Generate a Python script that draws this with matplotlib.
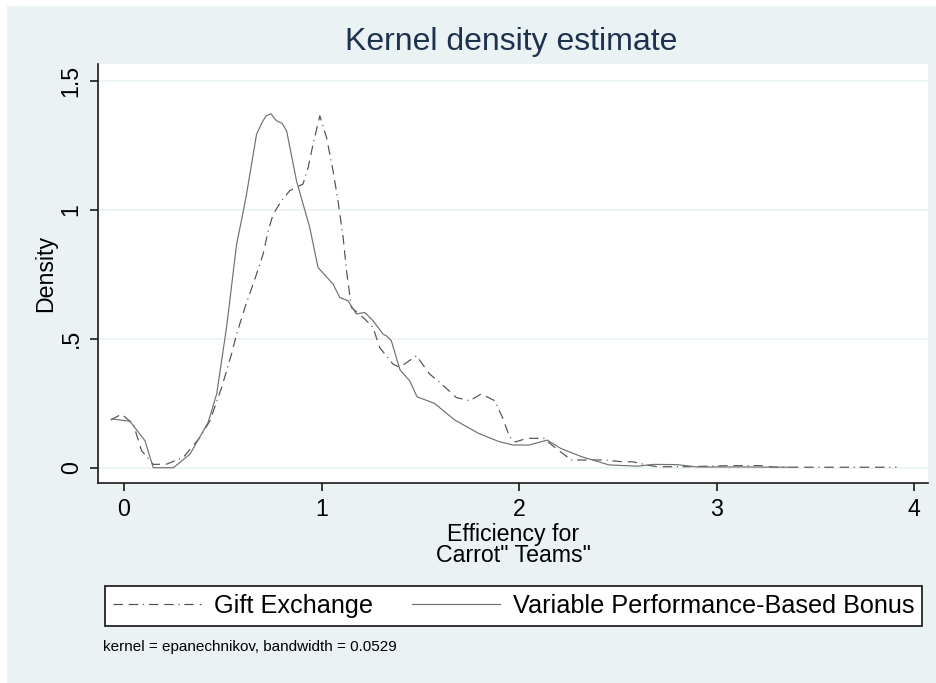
# libraries
import matplotlib
matplotlib.use('Agg')
import matplotlib.pyplot as plt
from matplotlib.patches import Rectangle

plt.rcParams['font.family'] = ['Liberation Sans', 'DejaVu Sans']

# density curves
gift_x = [-0.067, -0.012, 0.047, 0.089, 0.148, 0.216, 0.30, 0.384, 0.435, 0.494,
          0.544, 0.57, 0.612, 0.671, 0.704, 0.73, 0.755, 0.797, 0.839, 0.906,
          0.932, 0.957, 0.991, 1.025, 1.058, 1.083, 1.109, 1.126, 1.151, 1.21,
          1.26, 1.294, 1.361, 1.395, 1.48, 1.547, 1.598, 1.682, 1.75, 1.808,
          1.876, 1.917, 1.951, 1.98, 2.04, 2.125, 2.177, 2.263, 2.37, 2.44,
          2.52, 2.575, 2.65, 2.70, 2.86, 2.95, 3.06, 3.22, 3.3, 3.6, 3.91]
gift_y = [0.185, 0.208, 0.169, 0.066, 0.013, 0.014, 0.04, 0.117, 0.182, 0.311,
          0.44, 0.518, 0.621, 0.751, 0.828, 0.919, 0.983, 1.035, 1.074, 1.10,
          1.164, 1.255, 1.364, 1.28, 1.151, 1.035, 0.893, 0.764, 0.621, 0.583,
          0.544, 0.466, 0.402, 0.389, 0.434, 0.363, 0.331, 0.272, 0.26, 0.286,
          0.26, 0.192, 0.12, 0.10, 0.114, 0.114, 0.081, 0.030, 0.03, 0.03,
          0.023, 0.023, 0.01, 0.004, 0.004, 0.006, 0.008, 0.008, 0.002, 0.002, 0.002]

bonus_x = [-0.062, 0.03, 0.106, 0.148, 0.25, 0.334, 0.426, 0.469, 0.519, 0.57,
           0.60, 0.62, 0.671, 0.70, 0.72, 0.745, 0.76, 0.772, 0.80, 0.823,
           0.873, 0.94, 0.982, 1.058, 1.092, 1.134, 1.176, 1.218, 1.26, 1.311,
           1.33, 1.353, 1.397, 1.446, 1.483, 1.57, 1.674, 1.795, 1.899, 1.97,
           2.05, 2.142, 2.21, 2.315, 2.454, 2.6, 2.68, 2.8, 2.9, 3.1, 3.37]
bonus_y = [0.189, 0.18, 0.105, 0.0, 0.0, 0.053, 0.176, 0.286, 0.544, 0.867,
           0.98, 1.06, 1.293, 1.34, 1.365, 1.372, 1.355, 1.345, 1.335, 1.306,
           1.112, 0.931, 0.776, 0.712, 0.66, 0.647, 0.596, 0.602, 0.57, 0.518,
           0.51, 0.492, 0.379, 0.337, 0.275, 0.25, 0.185, 0.133, 0.101, 0.088,
           0.088, 0.107, 0.075, 0.043, 0.011, 0.006, 0.013, 0.012, 0.003, 0.003, 0.002]

xticks = [0, 1, 2, 3, 4]
yticks = [0, 0.5, 1, 1.5]
ytick_labels = ['0', '.5', '1', '1.5']

bg = '#eaf2f3'
W, H = 937, 683

fig = plt.figure(figsize=(W / 100, H / 100), dpi=100)
fig.patch.set_facecolor('white')
fig.add_artist(Rectangle((7 / W, 0), 1, 1 - 6 / H, transform=fig.transFigure,
                         facecolor=bg, edgecolor='none', zorder=-5))

ax = fig.add_axes([98 / W, 1 - 482.7 / H, 830 / W, 418.7 / H])
ax.set_facecolor('white')

ax.plot(gift_x, gift_y, color='#505050', lw=0.85, dashes=(8, 5, 8, 4, 1, 4),
        label='Gift Exchange')
ax.plot(bonus_x, bonus_y, color='#707070', lw=0.85,
        label='Variable Performance-Based Bonus')

ax.set_xlim(-0.1316, 4.069)
ax.set_ylim(-0.058, 1.565)
ax.set_xticks(xticks)
ax.set_yticks(yticks)
ax.set_yticklabels(ytick_labels, rotation=90, va='center')
ax.grid(axis='y', color=bg, lw=1.2)
ax.set_axisbelow(True)
for s in ['top', 'right']:
    ax.spines[s].set_visible(False)
for s in ['left', 'bottom']:
    ax.spines[s].set_linewidth(1.2)
    ax.spines[s].set_color('#1a1a1a')
ax.tick_params(axis='both', direction='out', length=6, width=1.2, color='#1a1a1a',
               labelsize=16.7, pad=5)

ax.set_ylabel('Density', fontsize=16.7, labelpad=2)

fig.text(513 / W, 1 - 541 / H, 'Efficiency for', ha='center', va='baseline', fontsize=16.7)
fig.text(513 / W, 1 - 562 / H, 'Carrot" Teams"', ha='center', va='baseline', fontsize=16.7)

fig.text(511 / W, 1 - 50 / H, 'Kernel density estimate', ha='center', va='baseline',
         fontsize=23, color='#1e3250')

handles = ax.get_lines()
leg = fig.legend(handles, [h.get_label() for h in handles], ncol=2, loc='center',
                 bbox_to_anchor=(105 / W, 1 - 627 / H, 817 / W, 42 / H), mode='expand',
                 fontsize=18.2, handlelength=3.5, handletextpad=0.5, columnspacing=1.0,
                 borderaxespad=0, borderpad=0.3, fancybox=False, framealpha=1)
leg.get_frame().set_edgecolor('#222222')
leg.get_frame().set_linewidth(1.3)

fig.text(103 / W, 1 - 647 / H, 'kernel = epanechnikov, bandwidth = 0.0529',
         ha='left', va='center', fontsize=11)

fig.savefig('out.png', dpi=100)
